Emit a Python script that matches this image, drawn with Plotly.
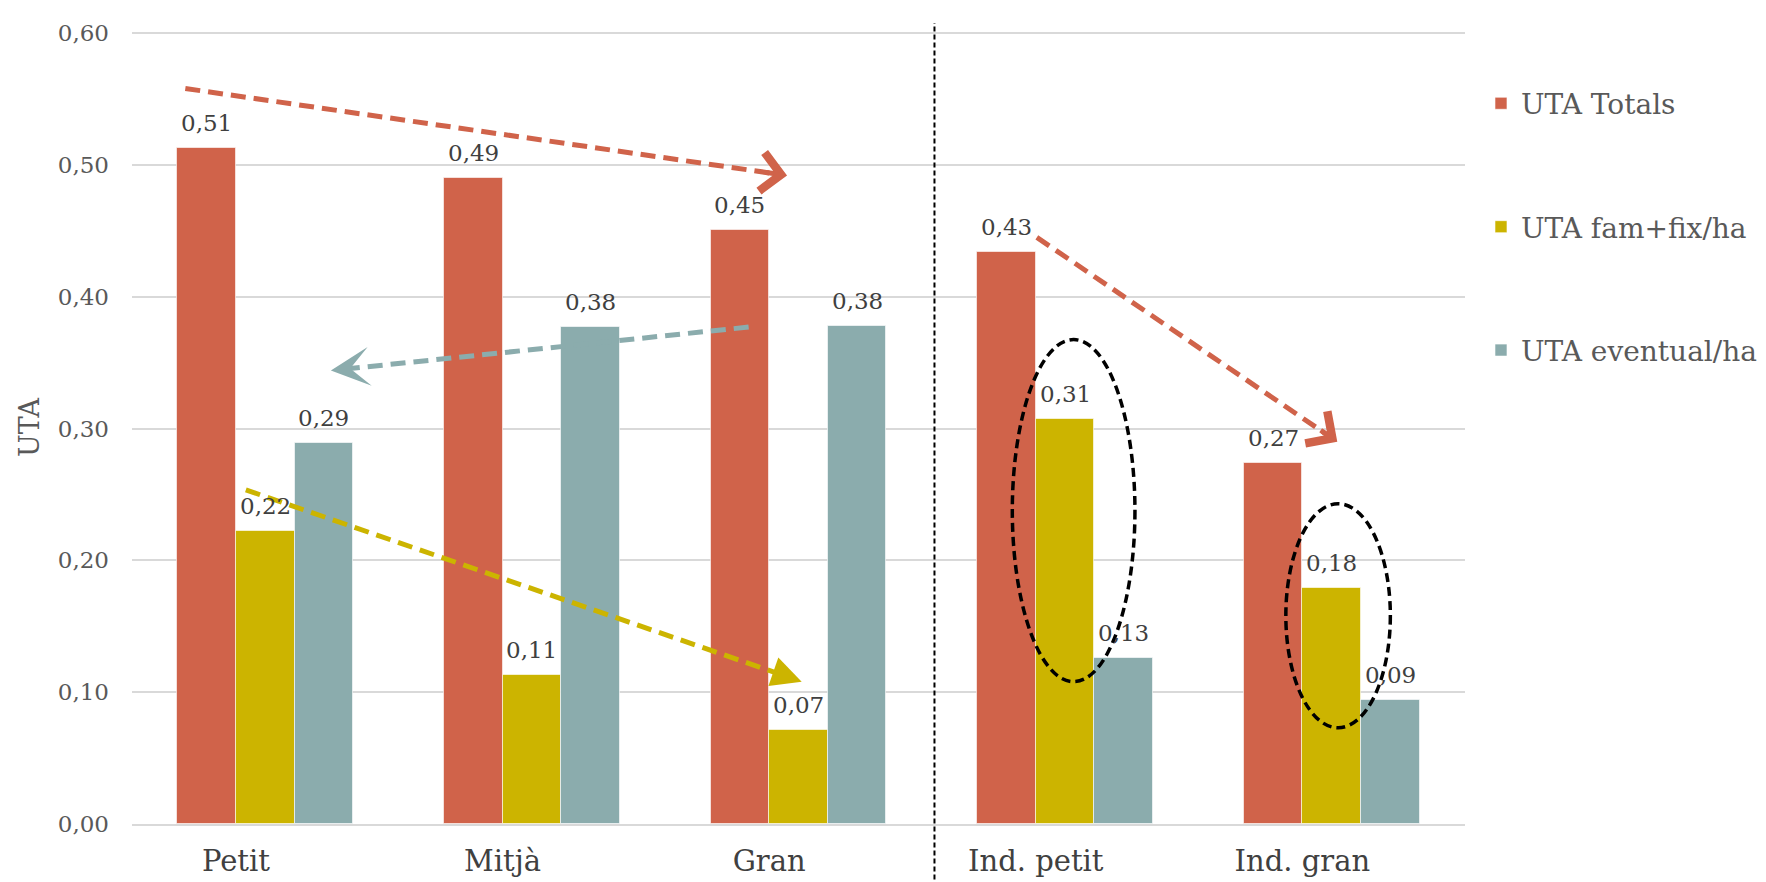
import math
import plotly.graph_objects as go

categories = ["Petit", "Mitjà", "Gran", "Ind. petit", "Ind. gran"]
series_names = ["UTA Totals", "UTA fam+fix/ha", "UTA eventual/ha"]
uta_totals = [0.513, 0.490, 0.451, 0.434, 0.274]
uta_famfix = [0.222, 0.113, 0.071, 0.307, 0.179]
uta_eventual = [0.289, 0.377, 0.378, 0.126, 0.094]
colors = ["#D0634A", "#CCB400", "#8BACAD"]
tick_vals = [0.0, 0.1, 0.2, 0.3, 0.4, 0.5, 0.6]

FONT = "DejaVu Serif"
BAR_W = 0.22
offsets = [-BAR_W, 0.0, BAR_W]

L, R, T, B = 124, 302, 19, 57
W, H = 1766, 882
XR = [-0.39, 4.61]
YR = [0, 0.6016]
px_x = (W - L - R) / (XR[1] - XR[0])
px_y = (H - T - B) / (YR[1] - YR[0])

fig = go.Figure()
all_series = [uta_totals, uta_famfix, uta_eventual]
for i, (name, vals) in enumerate(zip(series_names, all_series)):
    fig.add_trace(go.Bar(
        x=categories, y=vals, name=name, legendgroup=name,
        width=BAR_W, offset=offsets[i],
        marker=dict(color=colors[i], line=dict(color="rgba(255,255,255,0.6)", width=1)),
    ))
    for j, v in enumerate(vals):
        fig.add_annotation(x=j + offsets[i] + BAR_W / 2, y=v, xref="x", yref="y",
                           text=f"{v:.2f}".replace(".", ","), showarrow=False,
                           yanchor="bottom", yshift=10,
                           font=dict(family=FONT, size=23, color="#404040"))

# separator line between groups
fig.add_shape(type="line", xref="x", yref="paper", x0=2.62, x1=2.62, y0=-0.08, y1=1.01,
              line=dict(color="black", width=2, dash="5px,3px"))

# dashed trend arrows (line shape + arrowhead annotation)
arrows = [
    # (x0, y0, x1, y1, color, head, size)
    (-0.19, 0.558, 2.067, 0.492, colors[0], 4, 1.5),
    (1.923, 0.377, 0.356, 0.344, colors[2], 3, 1.3),
    (0.037, 0.2535, 2.122, 0.108, colors[1], 2, 1.2),
    (3.004, 0.445, 4.131, 0.290, colors[0], 4, 1.5),
]
for x0, y0, x1, y1, col, head, size in arrows:
    dxp = (x1 - x0) * px_x
    dyp = -(y1 - y0) * px_y
    n = math.hypot(dxp, dyp)
    tail = 22
    fig.add_shape(type="line", xref="x", yref="y", x0=x0, y0=y0,
                  x1=x1 - (x1 - x0) * 10 / n, y1=y1 - (y1 - y0) * 10 / n,
                  line=dict(color=col, width=5, dash="15px,8px"))
    fig.add_annotation(x=x1, y=y1, xref="x", yref="y",
                       ax=-dxp / n * tail, ay=-dyp / n * tail,
                       showarrow=True, arrowhead=head, arrowsize=size, arrowwidth=5,
                       arrowcolor=col, text="", standoff=0, startstandoff=0)

# dashed ellipses
for x0, x1, y0, y1 in [(2.912, 3.372, 0.108, 0.3675), (3.938, 4.330, 0.073, 0.243)]:
    fig.add_shape(type="circle", xref="x", yref="y", x0=x0, x1=x1, y0=y0, y1=y1,
                  line=dict(color="black", width=3.5, dash="9px,5px"))

fig.update_layout(
    width=W, height=H,
    paper_bgcolor="white", plot_bgcolor="white",
    margin=dict(l=L, r=R, t=T, b=B),
    barmode="group", bargap=0, bargroupgap=0,
    separators=",.",
    font=dict(family=FONT, color="#595959"),
    legend=dict(x=1.012, y=0.94, xanchor="left", yanchor="top",
                traceorder="grouped", tracegroupgap=84,
                font=dict(family=FONT, size=28, color="#595959"),
                itemwidth=30),
    showlegend=True,
)
fig.update_xaxes(range=XR, showgrid=False, showline=True, linecolor="#D9D9D9", linewidth=1.5,
                 ticks="", ticklabelstandoff=10,
                 tickfont=dict(family=FONT, size=29, color="#404040"))
fig.update_yaxes(range=YR, tickvals=tick_vals, tickformat=".2f",
                 showgrid=True, gridcolor="#D9D9D9", gridwidth=1.5,
                 zeroline=False, showline=False, ticks="", ticklabelstandoff=22,
                 tickfont=dict(family=FONT, size=23, color="#595959"),
                 title=dict(text="UTA", font=dict(family=FONT, size=27, color="#595959"),
                            standoff=10))

fig.write_html("out.html")
